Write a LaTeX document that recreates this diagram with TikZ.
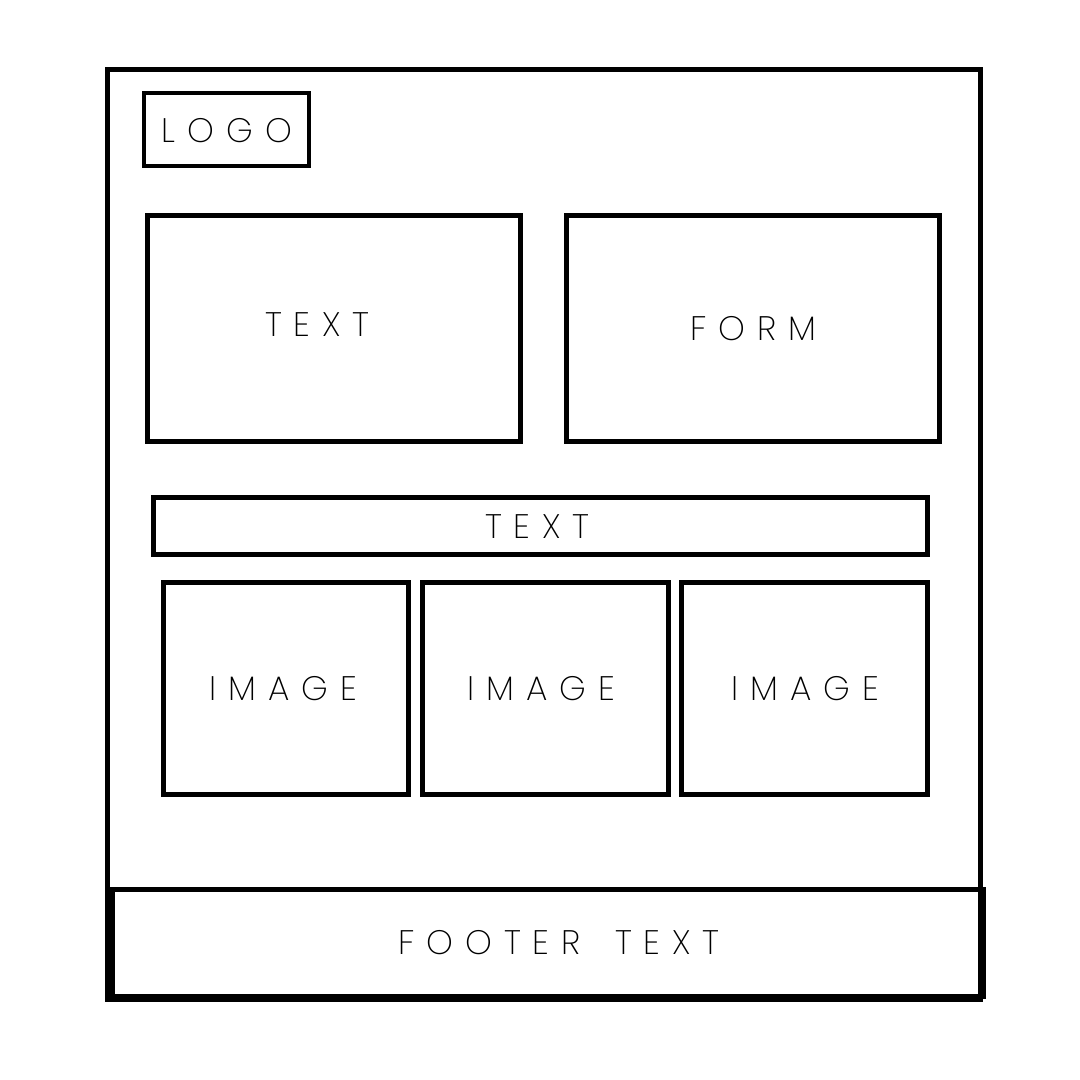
\documentclass[tikz,border=0pt]{standalone}
\usepackage{fontspec}
\setmainfont{Poppins ExtraLight}[LetterSpace=35]
\begin{document}
\begin{tikzpicture}[x=1pt,y=-1pt,
  box/.style={draw=black,line width=5pt,rectangle,inner sep=0pt,fill=none},
  lbl/.style={inner sep=0pt,font=\fontsize{34}{40}\selectfont,text=black}]
\fill[white] (0,0) rectangle (1080,1080);
\useasboundingbox (0,0) rectangle (1080,1080);
% boxes
\node[box,minimum width=873pt,minimum height=930pt] (outer) at (544,534) {};
\node[box,minimum width=871.5pt,minimum height=107pt] (footer) at (547.75,943) {};
\node[box,line width=4.2pt,minimum width=165pt,minimum height=73.3pt] (logo) at (226.2,129.35) {};
\node[box,minimum width=372.7pt,minimum height=225.5pt] (text1) at (333.85,328.45) {};
\node[box,minimum width=372.5pt,minimum height=225.5pt] (form) at (752.95,328.45) {};
\node[box,minimum width=774pt,minimum height=57.3pt] (band) at (540.5,526.15) {};
\node[box,minimum width=245.3pt,minimum height=212pt] (img1) at (285.85,688.5) {};
\node[box,minimum width=246pt,minimum height=212pt] (img2) at (545.5,688.5) {};
\node[box,minimum width=245.7pt,minimum height=212pt] (img3) at (804.65,688.5) {};
% labels
\node[lbl] (logot) at (227,130.5) {LOGO};
\node[lbl] (text1t) at (317.5,325) {TEXT};
\node[lbl] (formt) at (753,328.3) {FORM};
\node[lbl] (bandt) at (537.5,526.2) {TEXT};
\node[lbl] (img1t) at (283,688.2) {IMAGE};
\node[lbl] (img2t) at (541,688.2) {IMAGE};
\node[lbl] (img3t) at (805,688.2) {IMAGE};
\node[lbl] (foott) at (559,942.5) {FOOTER\hspace{13pt} TEXT};
\end{tikzpicture}
\end{document}
